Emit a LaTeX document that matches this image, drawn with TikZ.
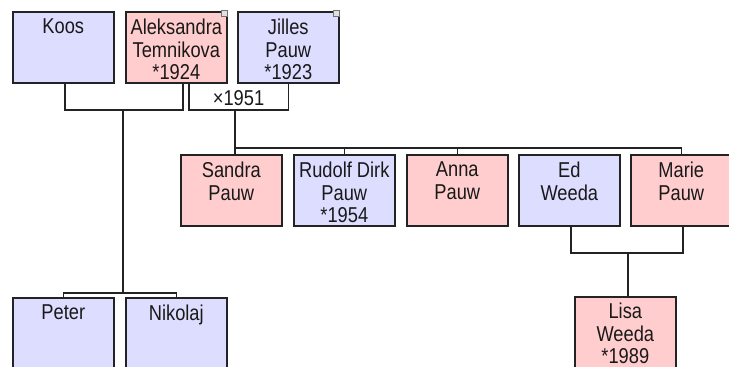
\documentclass[tikz,border=0pt]{standalone}
\usepackage{fontspec}
\setmainfont{Liberation Sans}[FakeStretch=0.85]
\usepackage{tikz}
\usetikzlibrary{positioning}

\definecolor{male}{HTML}{DDDDFF}
\definecolor{female}{HTML}{FFCDCD}
\definecolor{linecol}{HTML}{232323}

\tikzset{
  person/.style={draw=linecol, line width=1.6pt, fill=#1, minimum width=101pt,
    minimum height=71pt, inner sep=0pt, anchor=north west},
  nametext/.style={anchor=north, yshift=-8pt, inner sep=0pt, align=center,
    font=\fontsize{21.5}{22.3}\selectfont, text=black!90},
  cornermark/.style={draw=black!55, fill=black!12, line width=0.6pt,
    minimum size=5.5pt, inner sep=0pt, anchor=north east},
  link/.style={draw=linecol, line width=1.6pt},
}

\begin{document}
\begin{tikzpicture}[x=1pt, y=-1pt]
      \path[use as bounding box, fill=white] (0,0) rectangle (729,367);
      % parents
      \node[person=male, label={[nametext]north:Koos}] (koos) at (12,11) {};
      \node[person=female, label={[nametext]north:{Aleksandra\\Temnikova\\*1924}}] (aleks) at (125,11) {};
      \node[person=male, label={[nametext]north:{Jilles\\Pauw\\*1923}}] (jilles) at (237,11) {};
      \node[cornermark] (aleksmark) at ([xshift=-0.5pt,yshift=1pt]aleks.north east) {};
      \node[cornermark] (jillesmark) at ([xshift=-0.5pt,yshift=1pt]jilles.north east) {};
      % children
      \node[person=female, label={[nametext]north:{Sandra\\Pauw}}] (sandra) at (180,154) {};
      \node[person=male, label={[nametext]north:{Rudolf Dirk\\Pauw\\*1954}}] (rudolf) at (293,154) {};
      \node[person=female, label={[nametext]north:{Anna\\Pauw}}] (anna) at (406,154) {};
      \node[person=male, label={[nametext]north:{Ed\\Weeda}}] (ed) at (518,154) {};
      \node[person=female, label={[nametext]north:{Marie\\Pauw}}] (marie) at (630,154) {};
      \node[person=male, label={[nametext]north:Peter}] (peter) at (12,297) {};
      \node[person=male, label={[nametext]north:Nikolaj}] (nikolaj) at (125,297) {};
      \node[person=female, label={[nametext, yshift=1pt]north:{Lisa\\Weeda\\*1989}}] (lisa) at (574,296) {};
      % marriages
      \coordinate (m1) at (123,110);
      \coordinate (m2) at (235,110);
      \coordinate (m3) at (628,253);
      \coordinate (kids1) at (123,293);
      \coordinate (kids2) at (235,148);
      \draw[link] ([xshift=1.5pt]koos.south) |- (m1) -| ([xshift=6.5pt]aleks.south);
      \draw[link] ([xshift=12.5pt]aleks.south) |- (jilles.south |- m2)
        node[pos=0.75, above, inner sep=4pt, outer sep=0pt, font=\fontsize{21.5}{22.3}\selectfont, text=black!90] (wedding) {×1951}
        -- (jilles.south);
      \draw[link] ([xshift=1.5pt]ed.south) |- (m3) -| ([xshift=1.5pt]marie.south);
      % descendants
      \draw[link] (m1) -- (kids1);
      \draw[link] (peter.north) |- (kids1) -| (nikolaj.north);
      \draw[link] (m2) -- (kids2) -- (kids2 |- sandra.north);
      \draw[link] (kids2) -| (rudolf.north);
      \draw[link] (kids2) -| (anna.north);
      \draw[link] (kids2) -| (marie.north);
      \draw[link] (m3) -- (m3 |- lisa.north);
    \end{tikzpicture}
\end{document}
